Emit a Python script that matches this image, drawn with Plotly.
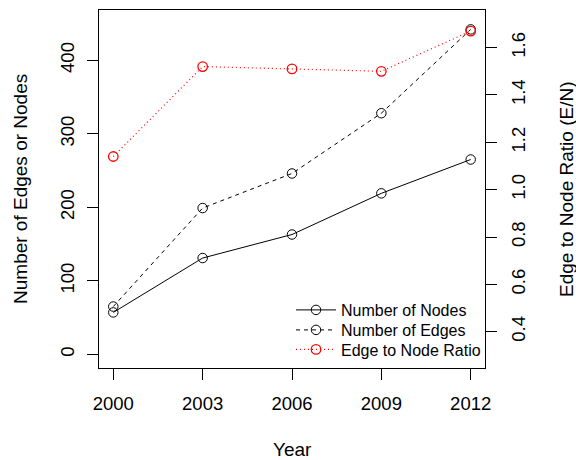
import plotly.graph_objects as go

years = [2000, 2003, 2006, 2009, 2012]
nodes = [57, 131, 163, 219, 265]
edges = [65, 199, 246, 328, 442]
ratio = [1.14, 1.52, 1.51, 1.50, 1.67]

x_ticks = [2000, 2003, 2006, 2009, 2012]
y_ticks = [0, 100, 200, 300, 400]
y2_ticks = [0.4, 0.6, 0.8, 1.0, 1.2, 1.4, 1.6]
y2_labels = ["0.4", "0.6", "0.8", "1.0", "1.2", "1.4", "1.6"]

FONT = "Liberation Sans, Arial, Helvetica, sans-serif"

fig = go.Figure()
fig.add_trace(go.Scatter(
    x=years, y=nodes, name="Number of Nodes", mode="lines+markers", legend="legend",
    line=dict(color="black", width=1),
    marker=dict(symbol="circle-open", size=9.5, color="black", line=dict(width=1)),
))
fig.add_trace(go.Scatter(
    x=years, y=edges, name="Number of Edges", mode="lines+markers", legend="legend2",
    line=dict(color="black", width=1, dash="4px,4px"),
    marker=dict(symbol="circle-open", size=9.5, color="black", line=dict(width=1)),
))
fig.add_trace(go.Scatter(
    x=years, y=ratio, name="Edge to Node Ratio", mode="lines+markers", yaxis="y2",
    legend="legend3",
    line=dict(color="#FF0000", width=1.2, dash="1px,3px"),
    marker=dict(symbol="circle-open", size=9.5, color="#FF0000", line=dict(width=1.3)),
))

axis_common = dict(
    showgrid=False, zeroline=False, showline=True, linecolor="black", linewidth=1,
    ticks="outside", ticklen=11, tickcolor="black", tickwidth=1,
    tickfont=dict(family=FONT, size=18.5, color="black"),
)

leg_common = dict(xanchor="left", yanchor="middle", bgcolor="rgba(0,0,0,0)",
                  borderwidth=0, itemwidth=40,
                  font=dict(family=FONT, size=16, color="black"))
LEG_X = (291 - 99) / 386

fig.update_layout(
    width=576, height=460,
    margin=dict(l=99, r=91, t=10, b=92),
    plot_bgcolor="white", paper_bgcolor="white",
    font=dict(family=FONT, color="black"),
    xaxis=dict(range=[1999.52, 2012.48], tickvals=x_ticks, mirror=True,
               ticklabelstandoff=8, **axis_common),
    yaxis=dict(range=[-18.6, 468.4], tickvals=y_ticks, mirror=True,
               tickangle=-90, ticklabelstandoff=6, **axis_common),
    yaxis2=dict(range=[0.2466, 1.759], tickvals=y2_ticks, ticktext=y2_labels,
                overlaying="y", side="right", tickangle=-90, ticklabelstandoff=6,
                **axis_common),
    showlegend=True,
    legend=dict(x=LEG_X, y=(368 - 310) / 358, **leg_common),
    legend2=dict(x=LEG_X, y=(368 - 330) / 358, **leg_common),
    legend3=dict(x=LEG_X, y=(368 - 349.5) / 358, **leg_common),
    annotations=[
        dict(text="Year", xref="paper", yref="paper", x=0.5, y=-0.229,
             xanchor="center", yanchor="middle", showarrow=False,
             font=dict(family=FONT, size=19, color="black")),
        dict(text="Number of Edges or Nodes", xref="paper", yref="paper",
             x=-0.2047, y=0.5, xanchor="center", yanchor="middle", textangle=-90,
             showarrow=False, font=dict(family=FONT, size=19, color="black")),
        dict(text="Edge to Node Ratio (E/N)", xref="paper", yref="paper",
             x=1.2098, y=0.5, xanchor="center", yanchor="middle", textangle=-90,
             showarrow=False, font=dict(family=FONT, size=19, color="black")),
    ],
)

fig.write_html("out.html")
